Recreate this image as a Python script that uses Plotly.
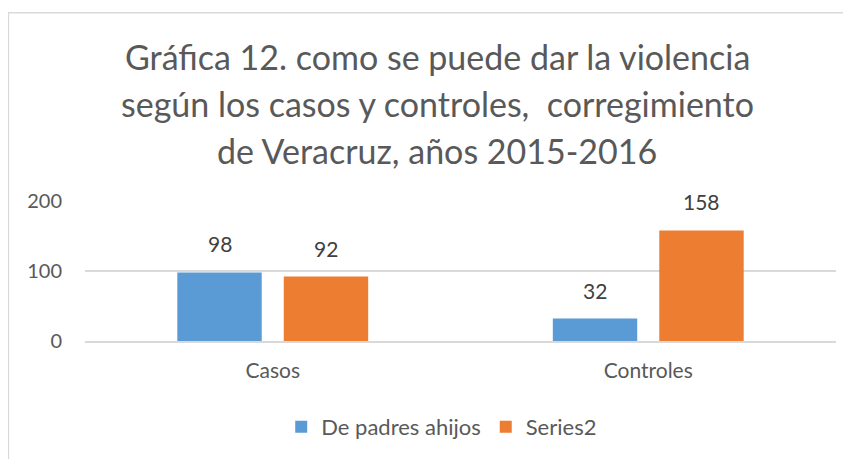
import plotly.graph_objects as go

categories = ["Casos", "Controles"]
series_names = ["De padres ahijos", "Series2"]
padres_ahijos = [98, 32]
series2 = [92, 158]
title_lines = [
    "Gráfica 12. como se puede dar la violencia",
    "según los casos y controles,  corregimiento",
    "de Veracruz, años 2015-2016",
]

colors = ["#5B9BD5", "#ED7D31"]
font = "Lato, 'Open Sans', sans-serif"
gray = "#595959"

fig = go.Figure()
for name, vals, color in zip(series_names, [padres_ahijos, series2], colors):
    fig.add_trace(go.Bar(x=categories, y=vals, name=name, marker=dict(color=color, line=dict(width=0))))

# data labels above each bar
for vals, shift in zip([padres_ahijos, series2], [-53, 53]):
    for cat, v in zip(categories, vals):
        fig.add_annotation(x=cat, y=v, text=str(v), showarrow=False, xshift=shift, yshift=14,
                           yanchor="bottom", font=dict(size=21, color="#404040", family=font))

# title, one annotation per line
for line, ypos in zip(title_lines, [2.035, 1.695, 1.362]):
    fig.add_annotation(text=line, x=0.469, y=ypos, xref="paper", yref="paper", showarrow=False,
                       xanchor="center", yanchor="middle", font=dict(size=34, color=gray, family=font))

# chart frame
fig.add_shape(type="rect", xref="paper", yref="paper", x0=-0.102, x1=1.3, y0=-1.5, y1=2.344,
              line=dict(color="#D9D9D9", width=1.5), layer="below")

# page body has an 8px margin, so the figure is sized and offset for it
fig.update_layout(
    width=843, height=451,
    margin=dict(l=77, r=15, t=193, b=117),
    paper_bgcolor="white", plot_bgcolor="white",
    barmode="group", bargap=0.433, bargroupgap=0.207,
    font=dict(family=font, color=gray, size=20),
    showlegend=True,
    legend=dict(orientation="h", x=0.475, y=-0.603, xanchor="center", yanchor="middle",
                font=dict(size=22, color=gray), itemwidth=30, tracegroupgap=0),
)
fig.update_yaxes(range=[0, 200], tickvals=[0, 100, 200], showgrid=True, gridcolor="#D9D9D9",
                 gridwidth=1.5, zeroline=False, showline=False, ticks="", ticklabelstandoff=22,
                 tickfont=dict(size=20, color=gray))
fig.update_xaxes(showline=True, linecolor="#D9D9D9", linewidth=1.5, ticks="", ticklabelstandoff=10,
                 tickfont=dict(size=21, color=gray))

fig.write_html("out.html")
